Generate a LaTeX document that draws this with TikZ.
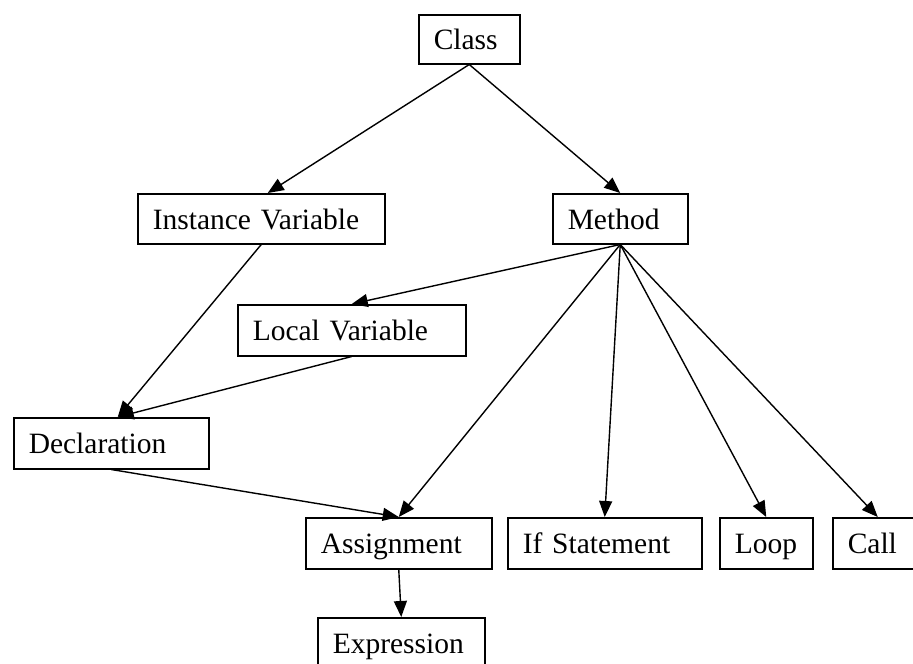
\documentclass[tikz,border=0pt]{standalone}
\usepackage{fontspec}
\setmainfont{Liberation Serif}
\usetikzlibrary{arrows.meta,positioning}
\tikzset{
  box/.style={draw, line width=1.5pt, rectangle, inner xsep=15pt, inner ysep=0pt,
    text height=21pt, text depth=0pt, align=left, anchor=north west,
    font=\fontsize{29.5}{34}\selectfont},
  edge/.style={line width=1.4pt, -{Triangle[length=16pt,width=13pt]}},
}
\newcommand{\bx}[6]{% name, left, top, right, bottom, text
  \node[box, text width={#4-#2-30pt}, minimum height={#5-#3}] (#1) at (#2,#3) {#6};}
\begin{document}
\begin{tikzpicture}[x=1pt,y=-1pt]
\useasboundingbox (0,0) rectangle (913,664);
\clip (0,0) rectangle (913,664);
\bx{cls}{418}{14}{519}{63}{Class}
\bx{iv}{137}{193}{384}{243}{Instance Variable}
\bx{mth}{552}{193}{687}{243}{Method}
\bx{lv}{237}{304}{465}{355}{Local Variable}
\bx{dcl}{13}{417}{208}{468}{Declaration}
\bx{asg}{305}{517}{491}{568}{Assignment}
\bx{ifs}{507}{517}{701}{568}{If Statement}
\bx{lop}{719}{517}{812}{568}{Loop}
\bx{cal}{832}{517}{922}{568}{Call}
\bx{exp}{317}{617}{484}{668}{Expression}
\draw[edge] (cls.south) -- ([xshift=6.5pt]iv.north);
\draw[edge] (cls.south) -- (mth.north);
\draw[edge] (iv.south) -- ([xshift=6.5pt]dcl.north);
\draw[edge] (mth.south) -- (lv.north);
\draw[edge] (lv.south) -- ([xshift=6.5pt]dcl.north);
\draw[edge] (dcl.south) -- (asg.north);
\draw[edge] (mth.south) -- (asg.north);
\draw[edge] (mth.south) -- (ifs.north);
\draw[edge] (mth.south) -- (lop.north);
\draw[edge] (mth.south) -- (cal.north);
\draw[edge] (asg.south) -- (exp.north);
\end{tikzpicture}
\end{document}
